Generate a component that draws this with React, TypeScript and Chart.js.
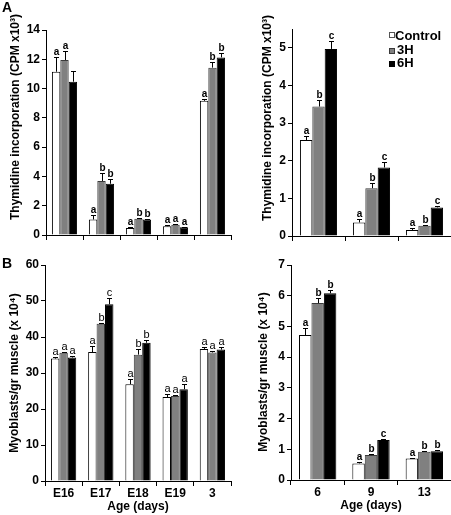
import React, { useEffect, useRef } from "react";
import { Chart, registerables } from "chart.js";

Chart.register(...registerables);

const FONT = "'Liberation Sans', Arial, sans-serif";

// ---- Panel A (left): embryonic / early ages ----
const catsA1 = ["E16", "E17", "E18", "E19", "3"];
const a1Control = [11.15, 1.06, 0.47, 0.6, 9.16];
const a1ControlErr = [1.03, 0.28, 0.05, 0.05, 0.14];
const a1H3 = [11.95, 3.69, 1.11, 0.7, 11.43];
const a1H3Err = [0.62, 0.54, 0.07, 0.07, 0.41];
const a1H6 = [10.47, 3.5, 1.06, 0.53, 12.13];
const a1H6Err = [0.73, 0.35, 0.04, 0.05, 0.32];
const a1Letters = [
  ["a", "a", "a", "a", "a"],
  ["a", "b", "b", "a", "b"],
  ["", "b", "b", "a", "b"],
];

// ---- Panel A (right): postnatal ages ----
const catsA2 = ["6", "9", "13"];
const a2Control = [2.55, 0.36, 0.16];
const a2ControlErr = [0.11, 0.1, 0.04];
const a2H3 = [3.44, 1.27, 0.27];
const a2H3Err = [0.18, 0.13, 0.02];
const a2H6 = [4.97, 1.82, 0.76];
const a2H6Err = [0.2, 0.15, 0.03];
const a2Letters = [
  ["a", "a", "a"],
  ["b", "b", "b"],
  ["c", "c", "c"],
];

// ---- Panel B (left) ----
const catsB1 = ["E16", "E17", "E18", "E19", "3"];
const b1Control = [34.0, 35.8, 26.9, 23.3, 36.7];
const b1ControlErr = [0.4, 1.6, 1.3, 0.8, 0.6];
const b1H3 = [35.6, 43.7, 35.1, 23.6, 35.7];
const b1H3Err = [0.3, 0.3, 1.7, 0.4, 0.3];
const b1H6 = [34.3, 49.1, 38.4, 25.5, 36.5];
const b1H6Err = [0.3, 1.8, 0.9, 1.4, 0.7];
const b1Letters = [
  ["a", "a", "a", "a", "a"],
  ["a", "b", "b", "a", "a"],
  ["a", "c", "b", "a", "a"],
];

// ---- Panel B (right) ----
const catsB2 = ["6", "9", "13"];
const b2Control = [4.72, 0.54, 0.7];
const b2ControlErr = [0.22, 0.03, 0.03];
const b2H3 = [5.76, 0.81, 0.92];
const b2H3Err = [0.16, 0.03, 0.03];
const b2H6 = [6.08, 1.3, 0.94];
const b2H6Err = [0.1, 0.03, 0.03];
const b2Letters = [
  ["a", "a", "a"],
  ["b", "b", "b"],
  ["b", "c", "b"],
];

const seriesNames = ["Control", "3H", "6H"];
const fills = ["#ffffff", "#808080", "#000000"];
const borders = ["#000000", "#3a3a3a", "#000000"];

const titleA = "Thymidine incorporation (CPM x10\u00B3)";
const titleB = "Myoblasts/gr muscle (x 10\u2074)";
const titleX = "Age (days)";

const errPlugin = {
  id: "errLetters",
  afterDatasetsDraw(chart: any, _args: any, opts: any) {
    const ctx = chart.ctx;
    const y = chart.scales.y;
    chart.data.datasets.forEach((ds: any, di: number) => {
      const meta = chart.getDatasetMeta(di);
      meta.data.forEach((bar: any, i: number) => {
        const v = ds.data[i];
        const e = opts.errors[di][i];
        const top = y.getPixelForValue(v);
        const et = y.getPixelForValue(v + e);
        const x = Math.round(bar.x) + 0.5;
        ctx.save();
        ctx.strokeStyle = "#000";
        ctx.lineWidth = 1;
        ctx.beginPath();
        ctx.moveTo(x, top);
        ctx.lineTo(x, Math.round(et) + 0.5);
        ctx.moveTo(x - 2.5, Math.round(et) + 0.5);
        ctx.lineTo(x + 2.5, Math.round(et) + 0.5);
        ctx.stroke();
        const L = opts.letters[di][i];
        if (L) {
          ctx.fillStyle = "#000";
          ctx.font = opts.letterFont;
          ctx.textAlign = "center";
          ctx.textBaseline = "alphabetic";
          ctx.fillText(L, x, et - 2);
        }
        ctx.restore();
      });
    });
  },
};

const titlePlugin = {
  id: "panelTitles",
  afterDraw(chart: any, _args: any, opts: any) {
    const ctx = chart.ctx;
    (opts.items || []).forEach((it: any) => {
      ctx.save();
      ctx.fillStyle = "#000";
      ctx.font = `bold 12px ${FONT}`;
      ctx.textAlign = "center";
      ctx.textBaseline = "middle";
      ctx.translate(it.x, it.y);
      if (it.rotate) ctx.rotate(-Math.PI / 2);
      ctx.fillText(it.text, 0, 0);
      ctx.restore();
    });
  },
};

type PanelProps = {
  left: number;
  top: number;
  width: number;
  height: number;
  area: { left: number; right: number; top: number; bottom: number };
  labels: string[];
  showLabels: boolean;
  yMax: number;
  yStep: number;
  values: number[][];
  errors: number[][];
  letters: string[][];
  letterFont: string;
  catPct: number;
  titles: { text: string; x: number; y: number; rotate?: boolean }[];
};

function Panel(p: PanelProps) {
  const ref = useRef<HTMLCanvasElement>(null);
  useEffect(() => {
    if (!ref.current) return;
    const chart = new Chart(ref.current, {
      type: "bar",
      data: {
        labels: p.labels,
        datasets: p.values.map((vals, i) => ({
          label: seriesNames[i],
          data: vals,
          backgroundColor: fills[i],
          borderColor: borders[i],
          borderWidth: 1,
          barPercentage: 1,
          categoryPercentage: p.catPct,
        })),
      },
      options: {
        animation: false,
        responsive: false,
        events: [],
        layout: {
          padding: {
            left: 0,
            top: p.area.top - p.top,
            right: p.left + p.width - p.area.right,
            bottom: 0,
          },
        },
        plugins: {
          legend: { display: false },
          tooltip: { enabled: false },
          errLetters: { errors: p.errors, letters: p.letters, letterFont: p.letterFont },
          panelTitles: { items: p.titles.map((t) => ({ ...t, x: t.x - p.left, y: t.y - p.top })) },
        } as any,
        scales: {
          x: {
            afterFit: (s: any) => {
              s.height = p.top + p.height - p.area.bottom;
            },
            border: { display: true, color: "#000", width: 1 },
            grid: {
              display: true,
              drawOnChartArea: false,
              drawTicks: true,
              tickLength: 5,
              color: "#000",
              offset: true,
            },
            ticks: {
              display: p.showLabels,
              color: "#000",
              font: { family: FONT, size: 12, weight: "bold" },
              padding: 0,
              maxRotation: 0,
            },
          },
          y: {
            min: 0,
            max: p.yMax,
            afterFit: (s: any) => {
              s.width = p.area.left - p.left;
            },
            border: { display: true, color: "#000", width: 1 },
            grid: {
              display: true,
              drawOnChartArea: false,
              drawTicks: true,
              tickLength: 4,
              color: "#000",
            },
            ticks: {
              stepSize: p.yStep,
              includeBounds: false,
              color: "#000",
              padding: 2,
              font: { family: FONT, size: 12, weight: "bold" },
            },
          },
        } as any,
      },
      plugins: [errPlugin, titlePlugin],
    });
    return () => chart.destroy();
  }, []);
  return (
    <canvas
      ref={ref}
      width={p.width}
      height={p.height}
      style={{ position: "absolute", left: p.left, top: p.top, width: p.width, height: p.height }}
    />
  );
}

const legendBox = (fill: string, border: string): React.CSSProperties => ({
  position: "absolute",
  left: 0,
  width: 4,
  height: 4,
  background: fill,
  border: `1px solid ${border}`,
});

export default function App() {
  const txt: React.CSSProperties = {
    position: "absolute",
    fontFamily: FONT,
    fontWeight: "bold",
    color: "#000",
    whiteSpace: "nowrap",
  };
  return (
    <div style={{ position: "absolute", left: 0, top: 0, width: 451, height: 515, background: "#fff", overflow: "hidden" }}>
      <Panel
        left={0}
        top={0}
        width={240}
        height={250}
        area={{ left: 46, right: 231, top: 30, bottom: 235 }}
        labels={catsA1}
        showLabels={false}
        yMax={14}
        yStep={2}
        values={[a1Control, a1H3, a1H6]}
        errors={[a1ControlErr, a1H3Err, a1H6Err]}
        letters={a1Letters}
        letterFont={`bold 10px ${FONT}`}
        catPct={0.68}
        titles={[{ text: titleA, x: 16, y: 117, rotate: true }]}
      />
      <Panel
        left={240}
        top={0}
        width={211}
        height={250}
        area={{ left: 292, right: 451, top: 29, bottom: 236 }}
        labels={catsA2}
        showLabels={false}
        yMax={5.5}
        yStep={1}
        values={[a2Control, a2H3, a2H6]}
        errors={[a2ControlErr, a2H3Err, a2H6Err]}
        letters={a2Letters}
        letterFont={`bold 10px ${FONT}`}
        catPct={0.7}
        titles={[{ text: titleA, x: 268, y: 118, rotate: true }]}
      />
      <Panel
        left={0}
        top={250}
        width={240}
        height={265}
        area={{ left: 45, right: 231, top: 265, bottom: 481 }}
        labels={catsB1}
        showLabels={true}
        yMax={60}
        yStep={10}
        values={[b1Control, b1H3, b1H6]}
        errors={[b1ControlErr, b1H3Err, b1H6Err]}
        letters={b1Letters}
        letterFont={`11px ${FONT}`}
        catPct={0.68}
        titles={[
          { text: titleB, x: 15, y: 373, rotate: true },
          { text: titleX, x: 138, y: 507 },
        ]}
      />
      <Panel
        left={240}
        top={250}
        width={211}
        height={265}
        area={{ left: 291, right: 451, top: 265, bottom: 480 }}
        labels={catsB2}
        showLabels={true}
        yMax={7}
        yStep={1}
        values={[b2Control, b2H3, b2H6]}
        errors={[b2ControlErr, b2H3Err, b2H6Err]}
        letters={b2Letters}
        letterFont={`bold 10px ${FONT}`}
        catPct={0.7}
        titles={[
          { text: titleB, x: 264, y: 372, rotate: true },
          { text: titleX, x: 371, y: 506 },
        ]}
      />
      <div style={{ ...txt, left: 2, top: -1, fontSize: 14 }}>A</div>
      <div style={{ ...txt, left: 2, top: 255, fontSize: 14 }}>B</div>
      <div style={{ position: "absolute", left: 389, top: 28 }}>
        {seriesNames.map((n, i) => (
          <div key={n} style={{ position: "absolute", left: 0, top: i * 13.5, height: 15, width: 62 }}>
            <div style={{ ...legendBox(fills[i], i === 0 ? "#555" : borders[i]), top: i === 0 ? 4 : 6 }} />
            <div style={{ ...txt, left: i === 0 ? 6 : 8, top: 0, fontSize: 13, lineHeight: "15px" }}>{n}</div>
          </div>
        ))}
      </div>
    </div>
  );
}
